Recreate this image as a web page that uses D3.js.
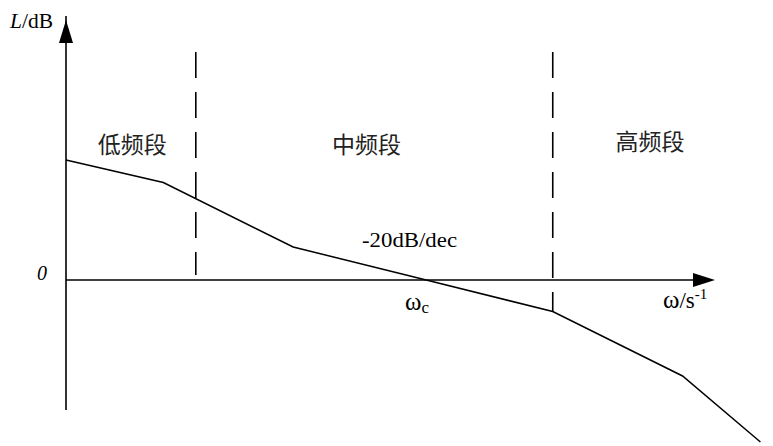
<!DOCTYPE html>
<html><head><meta charset="utf-8">
<script src="https://cdn.jsdelivr.net/npm/d3@7"></script>
<style>html,body{margin:0;padding:0;background:#fff;}</style>
</head><body>
<svg id="c" width="773" height="446"></svg>
<script>
// asymptotic Bode magnitude (generic units: x = log-frequency units, L in dB units)
const freqX = [0, 15, 35, 55.5, 75, 95, 107];
const gainL = [40, 32.5, 11, 0, -10.5, -32, -54];
const bandBoundaries = [20, 75];
const bandLabels = ["低频段", "中频段", "高频段"];
const bandLabelX = [10.2, 46.3, 90];
const slopeLabel = "-20dB/dec";

const svg = d3.select("#c");
const x = d3.scaleLinear().domain([0, 100]).range([66, 715]);
const y = d3.scaleLinear().domain([0, 80]).range([280, 40]);

const serif = "'Liberation Serif','Times New Roman',serif";
const cjk = "'Noto Sans CJK SC',sans-serif";

// axes
svg.append("line").attr("x1", x(0)).attr("x2", x(0)).attr("y1", y(-43.3)).attr("y2", y(88))
  .attr("stroke", "#000").attr("stroke-width", 1.6);
svg.append("path").attr("d", `M${x(0)},${y(86.7)} L${x(0)-7},${y(86.7)+23} L${x(0)+7},${y(86.7)+23}Z`).attr("fill", "#000");
svg.append("line").attr("x1", x(0)).attr("x2", x(99)).attr("y1", y(0)).attr("y2", y(0))
  .attr("stroke", "#000").attr("stroke-width", 1.6);
svg.append("path").attr("d", `M${x(100)},${y(0)} L${x(100)-22},${y(0)-7} L${x(100)-22},${y(0)+7}Z`).attr("fill", "#000");

// dashed band boundaries
const dashEnd = [1.7, d3.scaleLinear().domain(freqX).range(gainL)(bandBoundaries[1])];
bandBoundaries.forEach((b, i) => {
  svg.append("line").attr("x1", x(b)).attr("x2", x(b)).attr("y1", y(76)).attr("y2", y(dashEnd[i]))
    .attr("stroke", "#000").attr("stroke-width", 1.6).attr("stroke-dasharray", "26,14");
});

// curve
const line = d3.line().x(d => x(d[0])).y(d => y(d[1]));
svg.append("path").datum(freqX.map((v, i) => [v, gainL[i]])).attr("d", line)
  .attr("fill", "none").attr("stroke", "#000").attr("stroke-width", 1.5);

// band labels
bandLabels.forEach((t, i) => {
  svg.append("text").attr("x", x(bandLabelX[i])).attr("y", 153 - (i === 2 ? 3 : 0))
    .attr("text-anchor", "middle").attr("font-family", cjk).attr("font-size", 23)
    .attr("fill", "#222").text(t);
});

// axis labels
const yl = svg.append("text").attr("x", 10).attr("y", 28).attr("font-family", serif).attr("font-size", 20)
  .attr("textLength", 43).attr("lengthAdjust", "spacingAndGlyphs");
yl.append("tspan").attr("font-style", "italic").text("L");
yl.append("tspan").text("/dB");
svg.append("text").attr("x", 37).attr("y", 280).attr("font-family", serif).attr("font-size", 20)
  .attr("font-style", "italic").text("0");

svg.append("text").attr("x", 362).attr("y", 247).attr("font-family", serif).attr("font-size", 20)
  .attr("textLength", 95).attr("lengthAdjust", "spacingAndGlyphs").text(slopeLabel);

const wc = svg.append("text").attr("x", 405).attr("y", 310).attr("font-family", serif).attr("font-size", 25);
wc.append("tspan").text("ω");
wc.append("tspan").attr("font-size", 17).attr("dy", 3).text("c");

const wl = svg.append("text").attr("x", 663).attr("y", 308).attr("font-family", serif).attr("font-size", 22);
wl.append("tspan").attr("font-size", 25).text("ω");
wl.append("tspan").attr("font-size", 23).text("/s");
wl.append("tspan").attr("font-size", 15).attr("dy", -9).text("-1");
</script>
</body></html>
